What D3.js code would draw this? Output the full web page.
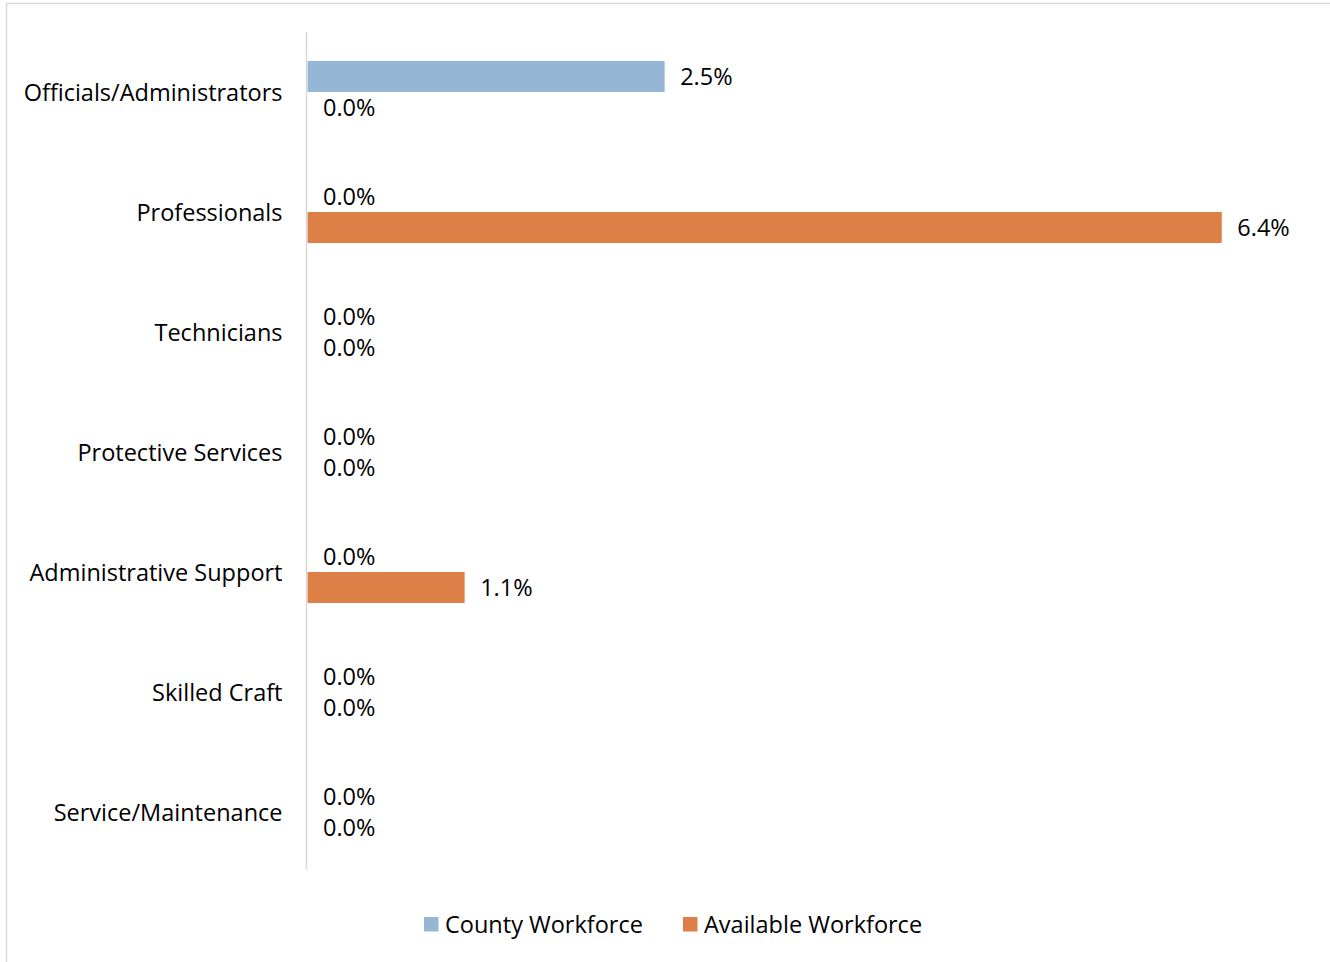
<!DOCTYPE html>
<html>
<head>
<meta charset="utf-8">
<script src="https://cdn.jsdelivr.net/npm/d3@7"></script>
<style>
  html, body { margin: 0; padding: 0; background: #fff; }
  svg { display: block; }
  text { font-family: "Open Sans", Lato, sans-serif; fill: #000; }
</style>
</head>
<body>
<svg id="chart" width="1330" height="962"></svg>
<script>
// Job categories, top to bottom
const categories = [
  "Officials/Administrators",
  "Professionals",
  "Technicians",
  "Protective Services",
  "Administrative Support",
  "Skilled Craft",
  "Service/Maintenance"
];
// Series names and values (percent)
const seriesNames = ["County Workforce", "Available Workforce"];
const countyWorkforce = [2.5, 0.0, 0.0, 0.0, 0.0, 0.0, 0.0];
const availableWorkforce = [0.0, 6.4, 0.0, 0.0, 1.1, 0.0, 0.0];
const seriesColors = ["#95b7d5", "#dd8047"];

const svg = d3.select("#chart");
const W = 1330, H = 962;
const FONT = "23.5px";

// chart frame
svg.append("rect")
  .attr("x", 6.5).attr("y", 3.5)
  .attr("width", W).attr("height", H)
  .attr("fill", "#fff").attr("stroke", "#d9d9d9").attr("stroke-width", 1.5);

const plot = { left: 307.5, right: 1307.5, top: 32, bottom: 872 };

const x = d3.scaleLinear().domain([0, 7]).range([plot.left, plot.right]);
const y = d3.scaleBand().domain(categories).range([plot.top, plot.bottom]).paddingInner(0.483).paddingOuter(0.2415);
const sub = d3.scaleBand().domain(seriesNames).range([0, y.bandwidth()]);

const rows = categories.map((c, i) => ({
  cat: c,
  vals: [
    { s: seriesNames[0], v: countyWorkforce[i], color: seriesColors[0] },
    { s: seriesNames[1], v: availableWorkforce[i], color: seriesColors[1] }
  ]
}));

// category labels
const yAxis = d3.axisLeft(y).tickSize(0).tickPadding(25);
const gy = svg.append("g").attr("transform", `translate(${plot.left},0)`).call(yAxis);
gy.select(".domain").remove();
gy.selectAll("text")
  .attr("dy", "0.37em")
  .style("font-family", "'Open Sans', Lato, sans-serif")
  .style("font-size", FONT)
  .attr("fill", "#000");

// bars and value labels
const grp = svg.append("g").selectAll("g").data(rows).join("g")
  .attr("transform", d => `translate(0,${y(d.cat)})`);

grp.selectAll("rect").data(d => d.vals).join("rect")
  .attr("x", x(0))
  .attr("y", d => sub(d.s))
  .attr("width", d => x(d.v) - x(0))
  .attr("height", sub.bandwidth())
  .attr("fill", d => d.color);

grp.selectAll("text.val").data(d => d.vals).join("text")
  .attr("class", "val")
  .attr("x", d => x(d.v) + 15.5)
  .attr("y", d => sub(d.s) + sub.bandwidth() / 2)
  .attr("dy", "0.38em")
  .style("font-size", FONT)
  .text(d => d.v.toFixed(1) + "%");

// vertical category axis line
svg.append("line")
  .attr("x1", plot.left - 1).attr("x2", plot.left - 1)
  .attr("y1", plot.top).attr("y2", plot.bottom - 2)
  .attr("stroke", "#d9d9d9").attr("stroke-width", 1.5);

// legend
const legendItems = [
  { name: seriesNames[0], color: seriesColors[0], x: 424 },
  { name: seriesNames[1], color: seriesColors[1], x: 683 }
];
const lg = svg.append("g").selectAll("g").data(legendItems).join("g")
  .attr("transform", d => `translate(${d.x},917)`);
lg.append("rect").attr("width", 14.5).attr("height", 14.5).attr("fill", d => d.color);
lg.append("text")
  .attr("x", 21).attr("y", 7.5).attr("dy", "0.36em")
  .style("font-size", FONT)
  .text(d => d.name);
</script>
</body>
</html>
